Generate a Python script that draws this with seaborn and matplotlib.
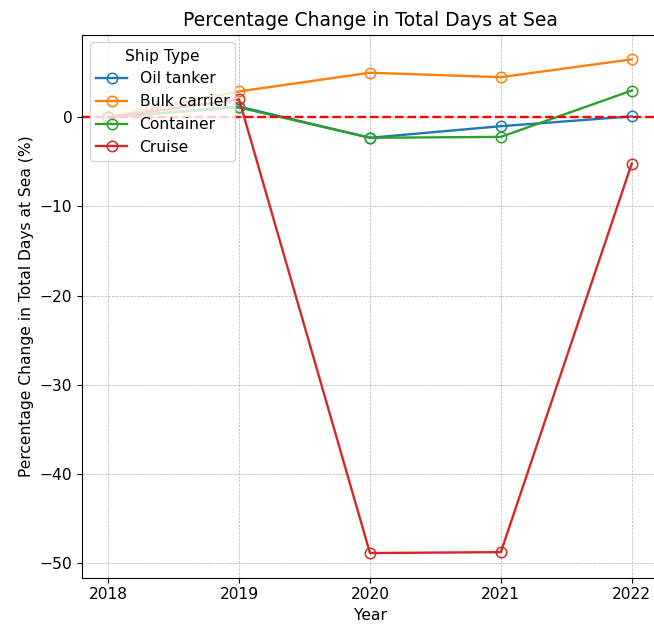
import matplotlib
matplotlib.use("Agg")
import matplotlib.pyplot as plt
import seaborn as sns
import pandas as pd

years = [2018, 2019, 2020, 2021, 2022]
ship_types = ["Oil tanker", "Bulk carrier", "Container", "Cruise"]
oil_tanker = [0.0, 1.2, -2.3, -1.0, 0.1]
bulk_carrier = [0.0, 2.9, 5.0, 4.5, 6.5]
container = [0.0, 1.1, -2.3, -2.2, 3.0]
cruise = [0.0, 2.0, -48.9, -48.8, -5.2]

series = [oil_tanker, bulk_carrier, container, cruise]
df = pd.DataFrame(
    [(y, name, v) for name, vals in zip(ship_types, series) for y, v in zip(years, vals)],
    columns=["Year", "Ship Type", "Change"],
)

plt.rcParams.update({
    "font.size": 11.2,
    "axes.labelsize": 11.2,
    "xtick.labelsize": 11.2,
    "ytick.labelsize": 11.2,
    "legend.fontsize": 11.2,
    "legend.title_fontsize": 11.2,
})

fig, ax = plt.subplots(figsize=(6.54, 6.27), dpi=100)
fig.subplots_adjust(left=0.1254, right=1.006, top=0.9447, bottom=0.0786)

palette = sns.color_palette("tab10", 4)
for name, color in zip(ship_types, palette):
    sub = df[df["Ship Type"] == name]
    sns.lineplot(
        data=sub, x="Year", y="Change", ax=ax, color=color, label=name,
        marker="o", markersize=7.5, markerfacecolor="none",
        markeredgecolor=color, markeredgewidth=1.1, linewidth=1.7,
    )

ax.axhline(0, color="red", linestyle="--", linewidth=1.7)
ax.set_xticks(years)
ax.set_title("Percentage Change in Total Days at Sea", fontsize=13.5)
ax.set_xlabel("Year")
ax.set_ylabel("Percentage Change in Total Days at Sea (%)")
ax.grid(True, linestyle="--", linewidth=0.5, color="#b0b0b0")
ax.legend(title="Ship Type", loc="upper left")

fig.savefig("out.png", dpi=100)
